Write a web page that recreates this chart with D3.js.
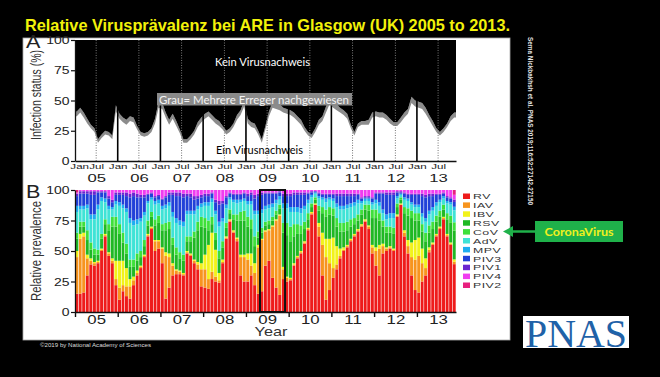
<!DOCTYPE html>
<html><head><meta charset="utf-8">
<script src="https://cdn.jsdelivr.net/npm/d3@7"></script>
<style>html,body{margin:0;padding:0;background:#000;} svg{display:block}</style>
</head><body>
<svg id="c" width="660" height="377"></svg>
<script>
// ---------------- data ----------------
const title = "Relative Virusprävalenz bei ARE in Glasgow (UK) 2005 to 2013.";
const citation = "Sema Nickbakhsh et al. PNAS 2019;116:52:27142-27150";
const copyright = "©2019 by National Academy of Sciences";
const yTicks = [0, 25, 50, 75, 100];
const yearLabels = ["05","06","07","08","09","10","11","12","13"];
const monthTickLabels = ["Jan", "Jul"];
const seriesNames = ["RV","IAV","IBV","RSV","CoV","AdV","MPV","PIV3","PIV1","PIV4","PIV2"];
const seriesColors = ["#ee1b1b","#f7941e","#f2f21a","#1fb824","#3ee03a","#3fe3d6","#1eaef0","#2140d8","#6a25d0","#f03cf0","#e8207e"];
const highlightStart = "2009-05", highlightEnd = "2009-11";

// Panel A: % single-virus detection and additional % with multiple viruses
const singleVirus = [37,40,36,31,27,24,15,19,22,21,18,41,
 35,32,30,33,32,26,21,20,21,24,31,44,
 43,36,30,35,29,23,15,15,18,22,28,32,
 35,37,34,31,29,26,22,24,28,34,38,45,
 31,28,27,22,15,26,37,44,43,42,40,39,
 38,36,33,30,25,21,19,24,30,33,40,47,
 44,42,40,38,35,27,21,28,30,30,30,36,
 37,36,36,34,31,29,29,32,36,39,48,45,
 44,43,39,34,29,24,21,24,28,33,36];
const multiVirus = [4,4,4,4,3,3,3,3,3,3,3,5,
 4,4,4,4,4,3,3,3,3,3,4,5,
 5,4,4,4,4,3,3,3,3,3,4,4,
 4,4,4,4,4,3,3,3,3,4,4,5,
 4,4,4,3,3,3,4,5,5,5,4,4,
 4,4,4,4,3,3,3,3,4,4,5,5,
 5,5,4,4,4,3,3,3,3,3,4,4,
 4,4,4,4,4,3,3,4,4,4,5,5,
 5,5,5,4,4,3,3,3,3,4,4];

// Panel B: relative prevalence per virus (monthly, Jan 2005 - Nov 2013)
const RV = [15,15,16,30,39,38,40,50,62,46,40,22,
 10,17,13,11,22,30,36,45,62,68,50,52,
 40,11,20,30,31,31,30,48,46,40,35,21,
 20,19,27,25,24,40,60,74,65,58,30,25,
 25,30,22,15,17,38,42,28,20,14,27,25,
 26,38,44,48,56,67,80,88,62,30,10,18,
 28,35,44,50,53,58,62,66,70,74,68,48,
 38,30,48,50,52,50,78,88,62,48,30,18,
 16,25,30,49,55,62,68,76,62,55,40];
const IAV = [30,45,46,14,3,2,1,1,1,2,2,5,
 10,5,8,10,4,2,1,1,1,1,8,6,
 12,35,25,8,3,2,1,1,1,2,4,14,
 15,8,6,4,2,1,1,1,1,2,15,20,
 18,8,10,38,42,28,25,42,55,65,8,3,
 1,1,1,1,1,1,1,0,8,25,35,22,
 8,4,2,1,1,1,1,1,1,1,2,5,
 12,22,6,2,1,1,1,0,3,6,15,25,
 30,15,6,2,1,1,1,1,1,1,2];
const IBV = [5,4,3,3,2,1,1,1,1,1,2,15,
 22,20,15,6,3,2,1,1,1,1,1,1,
 1,3,3,2,1,1,1,1,1,1,2,5,
 12,28,32,22,6,2,1,1,1,1,2,2,
 5,10,8,2,1,1,1,1,1,1,2,1,
 1,1,1,1,1,1,1,1,3,10,15,20,
 25,15,6,2,1,1,1,1,1,1,1,2,
 3,3,2,1,1,1,1,1,2,5,12,16,
 15,12,8,2,1,1,1,1,1,1,2];
const RSV = [10,6,5,12,7,6,5,8,8,18,26,28,
 22,15,12,10,8,8,7,7,7,8,12,14,
 14,18,20,15,12,10,10,8,10,18,26,30,
 22,12,7,8,12,10,7,5,9,14,28,28,
 22,20,14,6,5,4,4,4,4,5,28,34,
 30,22,18,14,10,7,4,3,10,16,18,20,
 18,16,14,13,12,10,8,7,8,8,12,22,
 24,20,14,12,11,12,6,3,14,20,20,16,
 14,14,14,12,11,10,8,6,12,16,24];
const CoV = [5,4,4,8,6,5,4,4,4,5,8,8,
 8,8,8,6,6,6,5,5,4,4,5,6,
 5,6,6,6,6,5,5,4,4,5,7,8,
 8,8,6,6,6,5,4,3,4,5,7,8,
 8,8,8,5,4,3,3,3,3,3,8,10,
 12,10,8,7,6,5,3,2,4,5,6,6,
 6,7,7,7,7,6,5,5,4,4,5,7,
 7,6,5,5,5,5,3,2,5,6,6,6,
 6,6,7,6,6,5,5,4,5,6,7];
const AdV = [17,10,10,18,19,24,33,27,14,12,6,10,
 15,20,26,30,28,24,24,20,14,10,12,10,
 12,12,13,17,20,22,23,18,18,14,10,8,
 10,12,12,15,20,16,12,8,10,9,8,8,
 10,12,18,14,12,10,10,8,6,4,12,12,
 12,10,10,10,10,8,5,3,6,6,6,6,
 6,9,11,11,11,10,10,9,5,3,3,4,
 5,6,6,6,7,8,4,2,6,6,5,5,
 5,6,9,9,9,8,7,5,8,9,10];
const MPV = [5,3,3,3,4,4,4,3,3,3,2,3,
 3,3,3,4,4,4,3,3,2,2,3,3,
 3,3,3,4,4,4,4,3,3,3,3,3,
 3,3,3,3,4,3,3,2,2,3,2,2,
 3,3,3,3,3,3,3,3,3,3,4,4,
 4,4,4,4,3,3,2,1,2,2,3,2,
 2,3,3,3,3,3,3,3,2,2,2,2,
 3,3,3,4,4,4,2,1,2,2,2,2,
 2,3,3,3,3,3,2,2,2,2,3];
const PIV3 = [8,10,10,9,16,16,10,4,5,6,4,5,
 6,8,10,17,20,18,17,12,5,3,3,3,
 5,6,6,14,18,20,20,12,11,9,6,5,
 5,5,4,7,14,12,6,3,4,4,4,4,
 4,5,10,12,12,10,9,8,5,3,6,6,
 9,10,10,11,9,5,2,1,2,2,3,2,
 3,6,8,8,7,6,5,4,2,1,1,3,
 5,7,13,16,15,15,3,1,3,3,6,8,
 8,14,17,12,9,6,4,2,3,3,4];
const PIV1 = [2,2,2,2,3,3,1,1,1,2,2,2,
 2,2,3,3,3,3,2,2,1,1,1,1,
 1,1,2,2,3,3,3,2,3,3,2,2,
 2,2,1,2,3,2,1,1,1,1,1,1,
 2,2,3,2,2,1,1,1,1,1,2,2,
 2,2,2,2,2,1,1,0,1,1,1,1,
 1,2,2,2,2,2,2,1,1,1,1,1,
 1,1,1,2,2,2,1,1,1,1,1,1,
 1,2,2,2,2,1,1,1,1,1,2];
const PIV4 = [1,1,1,1,1,1,1,1,1,5,8,2,
 2,2,2,3,2,3,4,4,3,2,5,4,
 7,5,2,2,2,2,3,3,3,5,5,4,
 3,3,2,8,9,9,5,2,3,3,3,2,
 3,2,4,3,2,2,2,2,2,1,3,3,
 3,2,2,2,2,2,1,1,2,3,3,3,
 3,3,3,3,3,3,3,3,6,5,5,6,
 2,2,2,2,2,2,1,1,2,3,3,3,
 3,3,4,3,3,3,3,2,5,6,4];
const PIV2 = [2,0,0,0,0,0,0,0,0,0,0,0,
 0,0,0,0,0,0,0,0,0,0,0,0,
 0,0,0,0,0,0,0,0,0,0,0,0,
 0,0,0,0,0,0,0,0,0,0,0,0,
 0,0,0,0,0,0,0,0,0,0,0,0,
 0,0,0,0,0,0,0,0,0,0,0,0,
 0,0,0,0,0,0,0,0,0,0,0,0,
 0,0,0,0,0,0,0,0,0,0,0,0,
 0,0,0,0,0,0,0,0,0,0,4];

// ---------------- drawing ----------------
const seriesValues = {RV, IAV, IBV, RSV, CoV, AdV, MPV, PIV3, PIV1, PIV4, PIV2};
const svg = d3.select("#c");
const SANS = "'Liberation Sans', Arial, Helvetica, sans-serif";
const CAL = "Lato, 'Open Sans', sans-serif";

const start = new Date(2005, 0, 1), end = new Date(2013, 11, 1);
const months = d3.timeMonths(start, end);
const next = d => d3.timeMonth.offset(d, 1);
const x = d3.scaleTime().domain([start, end]).range([75, 456]);
const mid = d => (x(d) + x(next(d))) / 2;

// background & panel
svg.append("rect").attr("width", 660).attr("height", 377).attr("fill", "#000");
svg.append("text").attr("x", 25).attr("y", 31).attr("fill", "#f2f20a")
  .attr("font-family", "'Liberation Sans Narrow', 'Arial Narrow', " + SANS)
  .attr("font-weight", "bold").attr("font-size", 16.5)
  .attr("textLength", 485).attr("lengthAdjust", "spacingAndGlyphs").text(title);
svg.append("rect").attr("x", 23).attr("y", 38).attr("width", 487).attr("height", 302)
  .attr("fill", "#fff").attr("stroke", "#aaa").attr("stroke-width", 0.8);

// ---- Panel A ----
const yA = d3.scaleLinear().domain([0, 100]).range([161, 40]);
const pts = months.map((d, i) => ({x: mid(d), s: singleVirus[i], t: singleVirus[i] + multiVirus[i]}));
const ptsA = [{x: x.range()[0], s: pts[0].s, t: pts[0].t}, ...pts,
  {x: x.range()[1], s: pts[pts.length-1].s, t: pts[pts.length-1].t}];
const gA = svg.append("g");
gA.append("path").datum(ptsA).attr("fill", "#8c8c8c")
  .attr("d", d3.area().x(d => d.x).y0(d => yA(d.s)).y1(d => yA(d.t)));
gA.append("path").datum(ptsA).attr("fill", "#000")
  .attr("d", d3.area().x(d => d.x).y0(d => yA(d.t)).y1(yA(100)));
// Jan (solid) and Jul (dotted) guide lines
gA.selectAll("line.jan").data(months.filter(d => d.getMonth() === 0 && d > start)).join("line")
  .attr("x1", d => x(d)).attr("x2", d => x(d)).attr("y1", yA(0)).attr("y2", yA(100))
  .attr("stroke", "#000").attr("stroke-width", 1.6);
gA.selectAll("line.jul").data(months.filter(d => d.getMonth() === 6)).join("line")
  .attr("x1", d => x(d)).attr("x2", d => x(d)).attr("y1", yA(0)).attr("y2", yA(100))
  .attr("stroke", "#777").attr("stroke-width", 1).attr("stroke-dasharray", "1,1.5");

// annotations
gA.append("text").attr("x", 215).attr("y", 65.5).attr("fill", "#fff").attr("font-family", CAL)
  .attr("font-size", 11.5).attr("textLength", 95).attr("lengthAdjust", "spacingAndGlyphs").text("Kein Virusnachweis");
gA.append("rect").attr("x", 157).attr("y", 93).attr("width", 195).attr("height", 12.5).attr("fill", "#8a8a8a");
gA.append("text").attr("x", 159).attr("y", 103.5).attr("fill", "#f4f4f4").attr("font-family", CAL)
  .attr("font-size", 11.5).attr("textLength", 190).attr("lengthAdjust", "spacingAndGlyphs")
  .text("Grau= Mehrere Erreger nachgewiesen");
gA.append("text").attr("x", 216).attr("y", 153.5).attr("fill", "#000").attr("font-family", CAL)
  .attr("font-size", 11.5).attr("textLength", 87).attr("lengthAdjust", "spacingAndGlyphs").text("Ein Virusnachweis");

function styleLeftAxis(g) {
  g.select(".domain").attr("stroke", "#111").attr("stroke-width", 1.3);
  g.selectAll(".tick line").attr("stroke", "#111").attr("stroke-width", 1.2);
  g.selectAll(".tick text").attr("font-family", SANS).attr("font-size", 11).attr("fill", "#222")
    .attr("x", -5.5 / 1.27).attr("transform", "scale(1.27,1)");
}
const axA = gA.append("g").attr("transform", `translate(${x.range()[0]},0)`)
  .call(d3.axisLeft(yA).tickValues(yTicks).tickSize(4).tickPadding(1).tickSizeOuter(0));
styleLeftAxis(axA);
const axAB = gA.append("g").attr("transform", `translate(0,${yA(0)})`)
  .call(d3.axisBottom(x).tickValues(months.filter(d => d.getMonth() % 6 === 0)).tickSize(0).tickSizeOuter(0)
    .tickFormat(d => monthTickLabels[d.getMonth() === 0 ? 0 : 1]));
axAB.select(".domain").attr("stroke", "#111").attr("stroke-width", 1.4);
axAB.selectAll(".tick text").attr("font-family", SANS).attr("font-size", 8).attr("fill", "#222")
  .attr("y", 8).attr("dy", null).attr("transform", "scale(1.45,1)")
  .attr("x", (d, i) => i === 0 ? 4.2 / 1.45 : 0);
const axAY = gA.append("g").attr("transform", `translate(0,${yA(0)})`)
  .call(d3.axisBottom(x).tickValues(months.filter(d => d.getMonth() === 6)).tickSize(0)
    .tickFormat(d => yearLabels[d.getFullYear() - 2005]));
axAY.select(".domain").remove();
axAY.selectAll(".tick text").attr("font-family", SANS).attr("font-size", 11.5).attr("fill", "#222")
  .attr("y", 21).attr("dy", null).attr("transform", "scale(1.45,1)");

svg.append("text").attr("transform", "translate(40.5,95) rotate(-90) scale(1,1.3)")
  .attr("text-anchor", "middle").attr("font-family", SANS).attr("font-size", 11).attr("fill", "#333")
  .attr("textLength", 90).attr("lengthAdjust", "spacingAndGlyphs").text("Infection status (%)");
svg.append("text").attr("x", 26 / 1.2).attr("y", 48.5).attr("transform", "scale(1.2,1)")
  .attr("font-family", SANS).attr("font-size", 18).attr("fill", "#222").text("A");

// ---- Panel B ----
const yB = d3.scaleLinear().domain([0, 1]).range([312, 190]);
const table = months.map((d, i) => {
  const row = {month: d};
  seriesNames.forEach(k => row[k] = seriesValues[k][i]);
  return row;
});
const stacked = d3.stack().keys(seriesNames).offset(d3.stackOffsetExpand)(table);
const color = d3.scaleOrdinal().domain(seriesNames).range(seriesColors);
const gB = svg.append("g");
gB.selectAll("g.layer").data(stacked).join("g").attr("fill", d => color(d.key))
  .selectAll("rect").data(d => d).join("rect")
  .attr("x", d => x(d.data.month) + 0.3)
  .attr("width", d => x(next(d.data.month)) - x(d.data.month) - 0.6)
  .attr("y", d => yB(d[1])).attr("height", d => Math.max(0, yB(d[0]) - yB(d[1])));

// 2009 pandemic highlight
const hs = d3.timeParse("%Y-%m")(highlightStart), he = next(d3.timeParse("%Y-%m")(highlightEnd));
gB.append("rect").attr("x", x(hs)).attr("width", x(he) - x(hs)).attr("y", yB(1)).attr("height", yB(0) - yB(1))
  .attr("fill", "none").attr("stroke", "#111").attr("stroke-width", 2);

const axB = gB.append("g").attr("transform", `translate(${x.range()[0]},0)`)
  .call(d3.axisLeft(yB).tickValues(yTicks.map(v => v / 100)).tickSize(4).tickPadding(1).tickSizeOuter(0)
    .tickFormat(d => Math.round(d * 100)));
styleLeftAxis(axB);
const axBX = gB.append("g").attr("transform", `translate(0,${yB(0)})`)
  .call(d3.axisBottom(x).tickValues(months.filter(d => d.getMonth() === 0)).tickSize(5).tickSizeOuter(0).tickFormat(""));
axBX.select(".domain").attr("stroke", "#111").attr("stroke-width", 1.4);
axBX.selectAll(".tick line").attr("stroke", "#111").attr("stroke-width", 1.4);
const axBY = gB.append("g").attr("transform", `translate(0,${yB(0)})`)
  .call(d3.axisBottom(x).tickValues(months.filter(d => d.getMonth() === 6)).tickSize(0)
    .tickFormat(d => yearLabels[d.getFullYear() - 2005]));
axBY.select(".domain").remove();
axBY.selectAll(".tick text").attr("font-family", SANS).attr("font-size", 12).attr("fill", "#222")
  .attr("y", 12).attr("dy", null).attr("transform", "scale(1.4,1)");
svg.append("text").attr("x", 271 / 1.25).attr("y", 336.5).attr("transform", "scale(1.25,1)")
  .attr("text-anchor", "middle").attr("font-family", SANS).attr("font-size", 13).attr("fill", "#333").text("Year");

svg.append("text").attr("transform", "translate(40.5,251) rotate(-90) scale(1,1.3)")
  .attr("text-anchor", "middle").attr("font-family", SANS).attr("font-size", 11.5).attr("fill", "#333")
  .attr("textLength", 100).attr("lengthAdjust", "spacingAndGlyphs").text("Relative prevalence");
svg.append("text").attr("x", 26 / 1.2).attr("y", 198.5).attr("transform", "scale(1.2,1)")
  .attr("font-family", SANS).attr("font-size", 18).attr("fill", "#222").text("B");

// legend
const legY = d3.scalePoint().domain(seriesNames).range([196, 285]);
const leg = svg.append("g");
const li = leg.selectAll("g").data(seriesNames).join("g").attr("transform", d => `translate(463,${legY(d)})`);
li.append("rect").attr("x", 0).attr("y", -2.5).attr("width", 7).attr("height", 5.5).attr("fill", d => color(d));
li.append("text").attr("x", 10 / 1.6).attr("y", 3.2).attr("transform", "scale(1.6,1)")
  .attr("font-family", SANS).attr("font-size", 7.7).attr("fill", "#333").attr("letter-spacing", 0.3).text(d => d);

// side decorations
svg.append("text").attr("transform", "translate(527.5,37) rotate(90)").attr("fill", "#e6e6e6")
  .attr("font-family", SANS).attr("font-weight", "bold").attr("font-size", 6.5)
  .attr("textLength", 168).attr("lengthAdjust", "spacingAndGlyphs").text(citation);
svg.append("line").attr("x1", 535).attr("x2", 511).attr("y1", 231.5).attr("y2", 231.5)
  .attr("stroke", "#1fb14a").attr("stroke-width", 2.5);
svg.append("path").attr("d", "M503,231.5 L513,226 L513,237 Z").attr("fill", "#1fb14a");
svg.append("rect").attr("x", 535).attr("y", 221).attr("width", 88).attr("height", 21).attr("fill", "#1fb14a");
svg.append("text").attr("x", 579).attr("y", 235.5).attr("text-anchor", "middle").attr("fill", "#f0f01e")
  .attr("font-family", CAL).attr("font-weight", "bold").attr("font-size", 11)
  .attr("textLength", 69).attr("lengthAdjust", "spacingAndGlyphs").text("CoronaVirus");

svg.append("rect").attr("x", 523).attr("y", 316).attr("width", 106).attr("height", 32).attr("fill", "#fff");
svg.append("text").attr("x", 525).attr("y", 346.5).attr("fill", "#1f62a8")
  .attr("font-family", "'Liberation Serif', 'Times New Roman', serif").attr("font-size", 41)
  .attr("textLength", 102).attr("lengthAdjust", "spacingAndGlyphs").text("PNAS");

svg.append("text").attr("x", 40).attr("y", 346.5).attr("fill", "#ddd").attr("font-family", SANS)
  .attr("font-size", 6).attr("textLength", 111).attr("lengthAdjust", "spacingAndGlyphs").text(copyright);
</script>
</body></html>
